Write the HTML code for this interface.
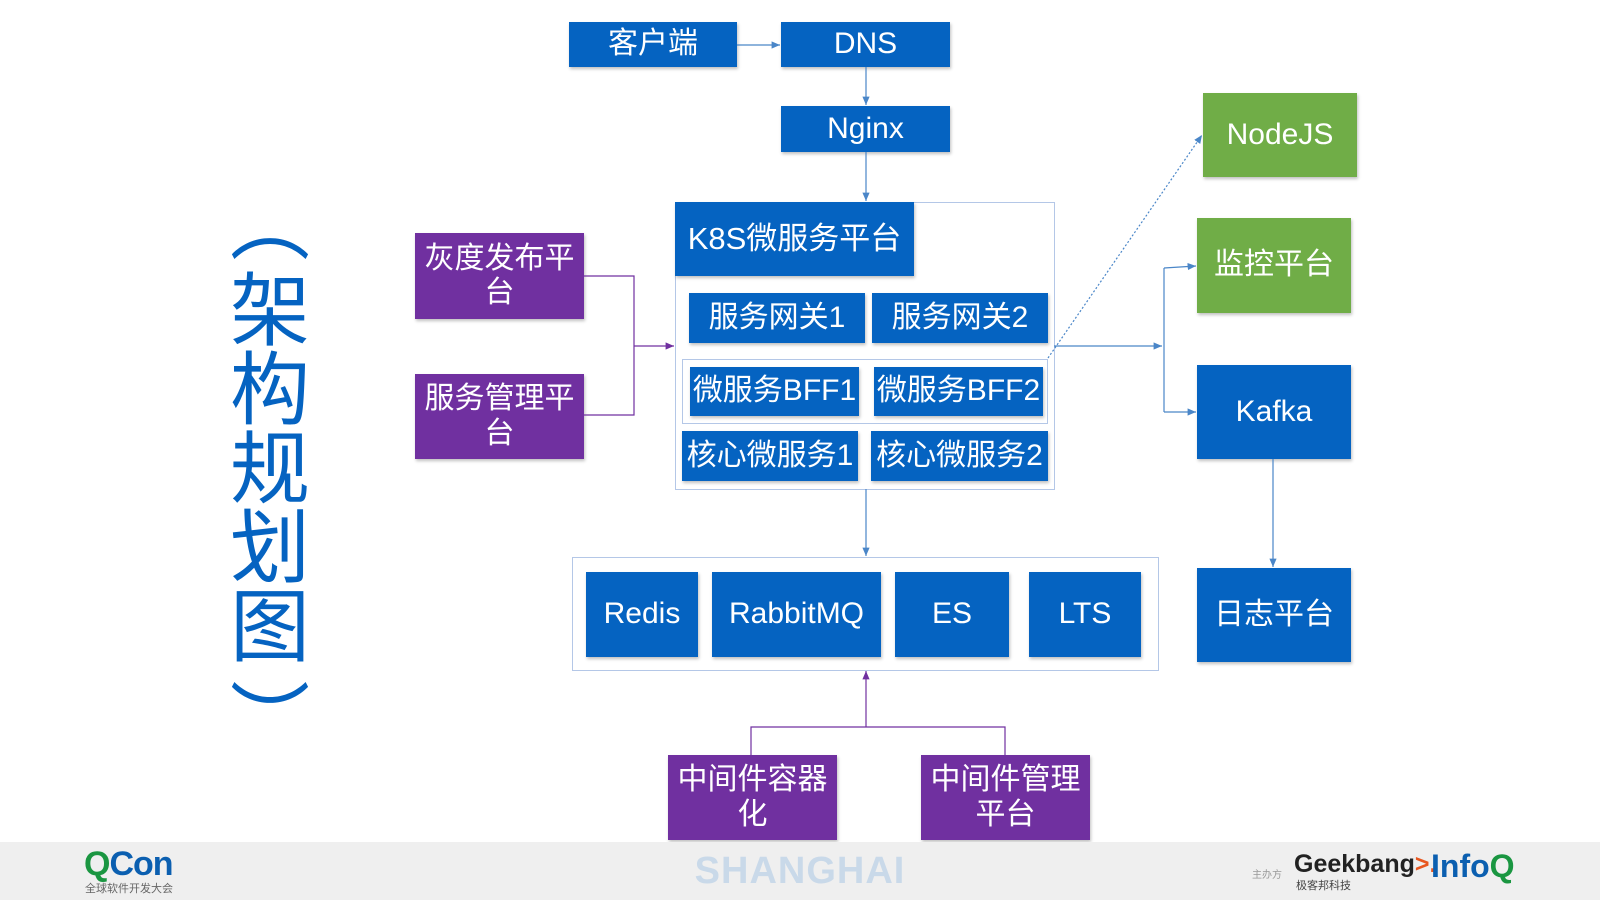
<!DOCTYPE html>
<html><head><meta charset="utf-8"><style>
body{margin:0;width:1600px;height:900px;position:relative;background:#fff;overflow:hidden;font-family:"Liberation Sans","Noto Sans CJK SC",sans-serif}
.b{position:absolute;color:#fff;display:flex;align-items:center;justify-content:center;text-align:center;line-height:1.15;box-shadow:1px 2px 3px rgba(0,0,0,.25);font-size:30px}
.bl{background:#0563c1}.pu{background:#7030a0}.gr{background:#70ad47}
.fr{position:absolute;border:1.5px solid #b4c7e7}
.t{position:absolute;left:225px;width:90px;font-size:80px;line-height:79px;color:#0563c1;text-align:center;font-family:'Noto Sans CJK SC',sans-serif}
</style></head><body>
<div class="fr" style="left:675px;top:202px;width:378px;height:286px"></div>
<div class="fr" style="left:682px;top:359px;width:364px;height:63px"></div>
<div class="fr" style="left:572px;top:557px;width:585px;height:112px"></div>
<div class="b bl" style="left:569px;top:22px;width:168px;height:45px">客户端</div>
<div class="b bl" style="left:781px;top:22px;width:169px;height:45px">DNS</div>
<div class="b bl" style="left:781px;top:106px;width:169px;height:46px">Nginx</div>
<div class="b bl" style="left:675px;top:202px;width:239px;height:74px;font-size:31px">K8S微服务平台</div>
<div class="b bl" style="left:689px;top:293px;width:176px;height:50px">服务网关1</div>
<div class="b bl" style="left:872px;top:293px;width:176px;height:50px">服务网关2</div>
<div class="b bl" style="left:690px;top:367px;width:169px;height:49px">微服务BFF1</div>
<div class="b bl" style="left:874px;top:367px;width:169px;height:49px">微服务BFF2</div>
<div class="b bl" style="left:682px;top:431px;width:176px;height:50px">核心微服务1</div>
<div class="b bl" style="left:871px;top:431px;width:177px;height:50px">核心微服务2</div>
<div class="b pu" style="left:415px;top:233px;width:169px;height:86px">灰度发布平<br>台</div>
<div class="b pu" style="left:415px;top:374px;width:169px;height:85px">服务管理平<br>台</div>
<div class="b gr" style="left:1203px;top:93px;width:154px;height:84px">NodeJS</div>
<div class="b gr" style="left:1197px;top:218px;width:154px;height:95px">监控平台</div>
<div class="b bl" style="left:1197px;top:365px;width:154px;height:94px">Kafka</div>
<div class="b bl" style="left:1197px;top:568px;width:154px;height:94px">日志平台</div>
<div class="b bl" style="left:586px;top:572px;width:112px;height:85px">Redis</div>
<div class="b bl" style="left:712px;top:572px;width:169px;height:85px">RabbitMQ</div>
<div class="b bl" style="left:895px;top:572px;width:114px;height:85px">ES</div>
<div class="b bl" style="left:1029px;top:572px;width:112px;height:85px">LTS</div>
<div class="b pu" style="left:668px;top:755px;width:169px;height:85px">中间件容器<br>化</div>
<div class="b pu" style="left:921px;top:755px;width:169px;height:85px">中间件管理<br>平台</div>
<svg width="1600" height="900" style="position:absolute;left:0;top:0">
<defs>
<marker id="ab" markerWidth="8" markerHeight="8" refX="7" refY="4" orient="auto"><path d="M0,1 L7,4 L0,7z" fill="#4a86c8"/></marker>
<marker id="ap" markerWidth="8" markerHeight="8" refX="7" refY="4" orient="auto"><path d="M0,1 L7,4 L0,7z" fill="#7030a0"/></marker>
</defs>
<g stroke="#4a86c8" stroke-width="1.2" fill="none">
<line x1="737" y1="45" x2="780" y2="45" marker-end="url(#ab)"/>
<line x1="866" y1="67" x2="866" y2="105" marker-end="url(#ab)"/>
<line x1="866" y1="152" x2="866" y2="201" marker-end="url(#ab)"/>
<line x1="866" y1="489" x2="866" y2="556" marker-end="url(#ab)"/>
<line x1="1054" y1="346" x2="1162" y2="346" marker-end="url(#ab)"/>
<line x1="1164" y1="268" x2="1164" y2="412"/>
<line x1="1164" y1="268" x2="1196" y2="266" marker-end="url(#ab)"/>
<line x1="1164" y1="412" x2="1196" y2="412" marker-end="url(#ab)"/>
<line x1="1273" y1="459" x2="1273" y2="567" marker-end="url(#ab)"/>
<line x1="1048" y1="358" x2="1202" y2="135" stroke-dasharray="2,2" marker-end="url(#ab)"/>
</g>
<g stroke="#7030a0" stroke-width="1.2" fill="none">
<polyline points="584,276 634,276 634,415 584,415"/>
<line x1="634" y1="346" x2="674" y2="346" marker-end="url(#ap)"/>
<polyline points="751,755 751,727 1005,727 1005,755"/>
<line x1="866" y1="727" x2="866" y2="671" marker-end="url(#ap)"/>
</g>
</svg>
<div class="t" style="top:180px">︵</div>
<div class="t" style="top:266px">架<br>构<br>规<br>划<br>图</div>
<div class="t" style="top:676px">︶</div>
<div style="position:absolute;left:0;top:842px;width:1600px;height:58px;background:#efefef"></div>
<div style="position:absolute;left:84px;top:845px;font-size:34px;font-weight:bold;letter-spacing:-1px"><span style="color:#1a9641">Q</span><span style="color:#0b5fb0">Con</span></div>
<div style="position:absolute;left:85px;top:880px;font-size:11px;color:#666">全球软件开发大会</div>
<div style="position:absolute;left:670px;top:850px;width:260px;text-align:center;font-size:38px;font-weight:bold;color:#c9d9e9;letter-spacing:1px">SHANGHAI</div>
<div style="position:absolute;left:1252px;top:866px;font-size:10px;color:#999">主办方</div>
<div style="position:absolute;left:1294px;top:850px;font-size:25px;font-weight:bold;color:#222">Geekbang<span style="color:#e8571f">&gt;.</span></div>
<div style="position:absolute;left:1296px;top:877px;font-size:11px;color:#444">极客邦科技</div>
<div style="position:absolute;left:1431px;top:848px;font-size:32px;font-weight:bold;color:#0b5fb0">Info<span style="color:#1a9641">Q</span></div>
</body></html>
